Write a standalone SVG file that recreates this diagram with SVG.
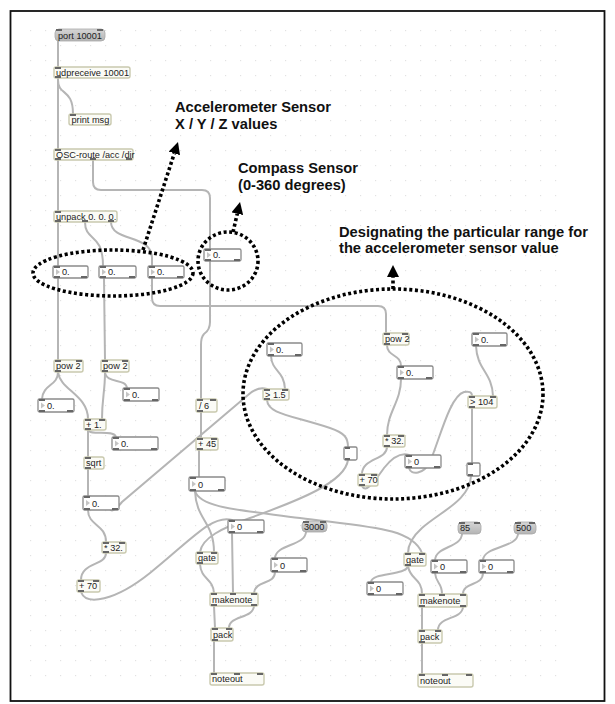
<svg xmlns="http://www.w3.org/2000/svg" width="615" height="704" viewBox="0 0 615 704">
<defs>
<style>
.ob{fill:#fbfbf6;stroke:#c9c9ae;stroke-width:1.4}
.nb{fill:#fff;stroke:#8a8a8a;stroke-width:1.3}
.tg{fill:#fff;stroke:#8a8a8a;stroke-width:1.3}
.msg{fill:url(#mg);stroke:#a8a8a8;stroke-width:0.8}
.io{fill:#666}
.tri{fill:#c4c4c4}
.t{font-family:"Liberation Sans",Arial,sans-serif;font-size:9.2px;fill:#222}
.ann{font-family:"Liberation Sans",Arial,sans-serif;font-size:14.7px;font-weight:bold;fill:#111}
.w{fill:none;stroke:#b5b5b5;stroke-width:2;stroke-linecap:round}
.dot{fill:none;stroke:#000;stroke-width:3.6;stroke-dasharray:3 2.6}
</style>
<linearGradient id="mg" x1="0" y1="0" x2="0" y2="1"><stop offset="0" stop-color="#d6d6d6"/><stop offset="1" stop-color="#b4b4b4"/></linearGradient>
<pattern id="grid" width="15" height="15" patternUnits="userSpaceOnUse"><rect x="0" y="0" width="1.2" height="1.2" fill="#e2e2e2"/></pattern>
<marker id="ah" markerUnits="userSpaceOnUse" viewBox="0 0 12 12" refX="0" refY="6" markerWidth="12" markerHeight="12" orient="auto"><path d="M0,0 L12,6 L0,12 z" fill="#000"/></marker>
</defs>
<rect x="0" y="0" width="615" height="704" fill="#fff"/>
<rect x="25" y="22" width="535" height="668" fill="url(#grid)"/>
<rect x="10.5" y="11" width="594" height="690" fill="none" stroke="#111" stroke-width="1.8"/>

<g id="connectors">
<path class="w" d="M58 41 L58 67"/>
<path class="w" d="M58 80 C58 96 73 88 73 114"/>
<path class="w" d="M58 78 L58 149"/>
<path class="w" d="M58 160 L58 211"/>
<path class="w" d="M93 160 L93 182 Q93 190 101 190 L202 190 Q210 190 210 198 L210 249"/>
<path class="w" d="M58 222 L58 266"/>
<path class="w" d="M85 222 C85 242 103 232 103 266"/>
<path class="w" d="M111 222 C111 242 152 234 152 258 L152 266"/>
<path class="w" d="M58 278 L58 360"/>
<path class="w" d="M104 278 L105 360"/>
<path class="w" d="M152 278 L152 298 Q152 306 160 306 L378 306 Q386 306 386 314 L386 333"/>
<path class="w" d="M210 261 L210 322 Q210 330 204 334 Q201 337 201 345 L201 399"/>
<path class="w" d="M58 372 C58 386 43 384 42 399"/>
<path class="w" d="M58 372 C60 390 88 395 88 419"/>
<path class="w" d="M105 372 C105 392 102 398 102 419"/>
<path class="w" d="M105 372 C106 384 126 378 127 388"/>
<path class="w" d="M88 430 C90 436 114 429 116 437"/>
<path class="w" d="M88 430 L88 457"/>
<path class="w" d="M88 469 L88 496"/>
<path class="w" d="M88 510 C88 526 106 524 106 542"/>
<path class="w" d="M106 553 C106 566 81 562 81 580"/>
<path class="w" d="M110 509 C112 513 117 508 122 502 L248 395 Q258 386 267 389"/>
<path class="w" d="M201 412 L201 438"/>
<path class="w" d="M199 450 L199 477"/>
<path class="w" d="M195 491 C196 520 214 522 214 552"/>
<path class="w" d="M195 491 C200 508 240 510 300 518 C370 527 412 528 422 553"/>
<path class="w" d="M271 356 C272 372 284 370 285 389"/>
<path class="w" d="M267 400 C268 414 290 415 330 428 C345 433 348 438 348 447"/>
<path class="w" d="M348 460 C345 482 300 500 250 518 C222 528 202 538 200 552"/>
<path class="w" d="M387 345 C387 357 401 354 401 366"/>
<path class="w" d="M401 379 C401 402 387 412 387 435"/>
<path class="w" d="M387 447 C387 460 362 458 362 474"/>
<path class="w" d="M362 486 C366 494 374 482 384 468 C392 458 400 452 409 455"/>
<path class="w" d="M409 468 C411 476 424 474 430 462 C440 438 450 396 464 392 C469 391 472 392 472 396"/>
<path class="w" d="M476 346 C477 370 492 372 493 396"/>
<path class="w" d="M472 408 L472 463"/>
<path class="w" d="M471 476 C470 500 440 512 422 528 C412 537 408 545 408 553"/>
<path class="w" d="M408 566 C406 576 372 572 371 582"/>
<path class="w" d="M408 566 C410 580 422 578 422 594"/>
<path class="w" d="M462 534 C461 548 436 546 435 560"/>
<path class="w" d="M435 573 C436 584 442 582 442 594"/>
<path class="w" d="M518 534 C517 548 484 546 483 560"/>
<path class="w" d="M483 573 C483 586 463 582 463 594"/>
<path class="w" d="M422 607 L422 630"/>
<path class="w" d="M463 607 C462 620 438 616 438 630"/>
<path class="w" d="M422 643 L422 674"/>
<path class="w" d="M306 532 C305 546 276 544 275 558"/>
<path class="w" d="M275 572 C275 585 255 580 254 593"/>
<path class="w" d="M232 533 L233 593"/>
<path class="w" d="M200 564 C201 580 213 578 214 593"/>
<path class="w" d="M214 606 L215 628"/>
<path class="w" d="M254 606 C253 619 229 615 229 628"/>
<path class="w" d="M214 641 L214 673"/>
<path class="w" d="M81 592 C86 606 115 601 150 573 C190 541 212 514 232 520"/>
</g>

<g id="n-port"><rect class="msg" x="55" y="29" width="50" height="12" rx="4"/><text class="t" x="58" y="38.5">port 10001</text><rect class="io" x="56" y="29" width="6" height="2"/><rect class="io" x="97" y="29" width="6" height="2"/></g>
<g id="n-udpreceive"><rect class="ob" x="54" y="67" width="76" height="11" rx="2"/><text class="t" x="56" y="75.5">udpreceive 10001</text><rect class="io" x="55" y="67" width="6" height="2"/><rect class="io" x="55" y="76" width="6" height="2"/></g>
<g id="n-print"><rect class="ob" x="69" y="114" width="42" height="11" rx="2"/><text class="t" x="71.5" y="122.5">print msg</text><rect class="io" x="70" y="114" width="6" height="2"/></g>
<g id="n-oscroute"><rect class="ob" x="54" y="149" width="79" height="11" rx="2"/><text class="t" x="56" y="157.5">OSC-route /acc /dir</text><rect class="io" x="55" y="149" width="6" height="2"/><rect class="io" x="55" y="158" width="6" height="2"/><rect class="io" x="90" y="158" width="6" height="2"/><rect class="io" x="126" y="158" width="6" height="2"/></g>
<g id="n-unpack"><rect class="ob" x="54" y="211" width="63" height="11" rx="2"/><text class="t" x="56" y="219.5">unpack 0. 0. 0.</text><rect class="io" x="55" y="211" width="6" height="2"/><rect class="io" x="55" y="220" width="6" height="2"/><rect class="io" x="82" y="220" width="6" height="2"/><rect class="io" x="108" y="220" width="6" height="2"/></g>

<g id="n-nbA1"><rect class="nb" x="53" y="266" width="35" height="12" rx="1.5"/><path class="tri" d="M56 269 L60 272 L56 275 z"/><text class="t" x="62" y="275">0.</text><rect class="io" x="54" y="266" width="6" height="2"/><rect class="io" x="54" y="276" width="6" height="2"/><rect class="io" x="81" y="276" width="6" height="2"/></g>
<g id="n-nbA2"><rect class="nb" x="99" y="266" width="37" height="12" rx="1.5"/><path class="tri" d="M102 269 L106 272 L102 275 z"/><text class="t" x="108" y="275">0.</text><rect class="io" x="100" y="266" width="6" height="2"/><rect class="io" x="100" y="276" width="6" height="2"/><rect class="io" x="129" y="276" width="6" height="2"/></g>
<g id="n-nbA3"><rect class="nb" x="148" y="266" width="36" height="12" rx="1.5"/><path class="tri" d="M151 269 L155 272 L151 275 z"/><text class="t" x="157" y="275">0.</text><rect class="io" x="149" y="266" width="6" height="2"/><rect class="io" x="149" y="276" width="6" height="2"/><rect class="io" x="177" y="276" width="6" height="2"/></g>
<g id="n-nbC"><rect class="nb" x="204" y="249" width="37" height="12" rx="1.5"/><path class="tri" d="M207 252 L211 255 L207 258 z"/><text class="t" x="213" y="258">0.</text><rect class="io" x="205" y="249" width="6" height="2"/><rect class="io" x="205" y="259" width="6" height="2"/><rect class="io" x="234" y="259" width="6" height="2"/></g>

<g id="n-pow2a"><rect class="ob" x="54" y="360" width="29" height="12" rx="2"/><text class="t" x="56" y="369">pow 2</text><rect class="io" x="55" y="360" width="6" height="2"/><rect class="io" x="76" y="360" width="6" height="2"/><rect class="io" x="55" y="370" width="6" height="2"/></g>
<g id="n-pow2b"><rect class="ob" x="101" y="360" width="28" height="12" rx="2"/><text class="t" x="103" y="369">pow 2</text><rect class="io" x="102" y="360" width="6" height="2"/><rect class="io" x="122" y="360" width="6" height="2"/><rect class="io" x="102" y="370" width="6" height="2"/></g>
<g id="n-nbP1"><rect class="nb" x="38" y="399" width="36" height="13" rx="1.5"/><path class="tri" d="M41 402.5 L45 405.5 L41 408.5 z"/><text class="t" x="47" y="409">0.</text><rect class="io" x="39" y="399" width="6" height="2"/><rect class="io" x="39" y="410" width="6" height="2"/><rect class="io" x="67" y="410" width="6" height="2"/></g>
<g id="n-nbP2"><rect class="nb" x="123" y="388" width="36" height="13" rx="1.5"/><path class="tri" d="M126 391.5 L130 394.5 L126 397.5 z"/><text class="t" x="132" y="398">0.</text><rect class="io" x="124" y="388" width="6" height="2"/><rect class="io" x="124" y="399" width="6" height="2"/><rect class="io" x="152" y="399" width="6" height="2"/></g>
<g id="n-plus1"><rect class="ob" x="84" y="419" width="22" height="11" rx="2"/><text class="t" x="86" y="427.5">+ 1.</text><rect class="io" x="85" y="419" width="6" height="2"/><rect class="io" x="99" y="419" width="6" height="2"/><rect class="io" x="85" y="428" width="6" height="2"/></g>
<g id="n-nbS1"><rect class="nb" x="112" y="437" width="46" height="13" rx="1.5"/><path class="tri" d="M115 440.5 L119 443.5 L115 446.5 z"/><text class="t" x="121" y="447">0.</text><rect class="io" x="113" y="437" width="6" height="2"/><rect class="io" x="113" y="448" width="6" height="2"/><rect class="io" x="151" y="448" width="6" height="2"/></g>
<g id="n-sqrt"><rect class="ob" x="84" y="457" width="20" height="12" rx="2"/><text class="t" x="86" y="466">sqrt</text><rect class="io" x="85" y="457" width="6" height="2"/><rect class="io" x="85" y="467" width="6" height="2"/></g>
<g id="n-nbS2"><rect class="nb" x="83" y="496" width="36" height="14" rx="1.5"/><path class="tri" d="M86 500 L90 503 L86 506 z"/><text class="t" x="92" y="506.5">0.</text><rect class="io" x="84" y="496" width="6" height="2"/><rect class="io" x="84" y="508" width="6" height="2"/><rect class="io" x="112" y="508" width="6" height="2"/></g>
<g id="n-mul32a"><rect class="ob" x="102" y="542" width="24" height="11" rx="2"/><text class="t" x="104" y="550.5">* 32.</text><rect class="io" x="103" y="542" width="6" height="2"/><rect class="io" x="119" y="542" width="6" height="2"/><rect class="io" x="103" y="551" width="6" height="2"/></g>
<g id="n-plus70a"><rect class="ob" x="77" y="580" width="23" height="12" rx="2"/><text class="t" x="79" y="589">+ 70</text><rect class="io" x="78" y="580" width="6" height="2"/><rect class="io" x="93" y="580" width="6" height="2"/><rect class="io" x="78" y="590" width="6" height="2"/></g>

<g id="n-div6"><rect class="ob" x="196" y="399" width="21" height="13" rx="2"/><text class="t" x="199" y="408.5">/ 6</text><rect class="io" x="197" y="399" width="6" height="2"/><rect class="io" x="210" y="399" width="6" height="2"/><rect class="io" x="197" y="410" width="6" height="2"/></g>
<g id="n-plus45"><rect class="ob" x="196" y="438" width="22" height="12" rx="2"/><text class="t" x="198" y="447">+ 45</text><rect class="io" x="197" y="438" width="6" height="2"/><rect class="io" x="211" y="438" width="6" height="2"/><rect class="io" x="197" y="448" width="6" height="2"/></g>
<g id="n-nbG"><rect class="nb" x="189" y="477" width="36" height="14" rx="1.5"/><path class="tri" d="M192 481 L196 484 L192 487 z"/><text class="t" x="198" y="487.5">0</text><rect class="io" x="190" y="477" width="6" height="2"/><rect class="io" x="190" y="489" width="6" height="2"/><rect class="io" x="218" y="489" width="6" height="2"/></g>

<g id="n-nbR1"><rect class="nb" x="267" y="343" width="35" height="13" rx="1.5"/><path class="tri" d="M270 346.5 L274 349.5 L270 352.5 z"/><text class="t" x="276" y="353">0.</text><rect class="io" x="268" y="343" width="6" height="2"/><rect class="io" x="268" y="354" width="6" height="2"/><rect class="io" x="295" y="354" width="6" height="2"/></g>
<g id="n-gt15"><rect class="ob" x="263" y="389" width="26" height="11" rx="2"/><text class="t" x="265" y="397.5">&gt; 1.5</text><rect class="io" x="264" y="389" width="6" height="2"/><rect class="io" x="282" y="389" width="6" height="2"/><rect class="io" x="264" y="398" width="6" height="2"/></g>
<g id="n-tgA"><rect class="tg" x="344" y="447" width="13" height="13" rx="1.5"/><rect class="io" x="345" y="447" width="5" height="2"/><rect class="io" x="345" y="458" width="5" height="2"/></g>
<g id="n-pow2c"><rect class="ob" x="383" y="333" width="26" height="12" rx="2"/><text class="t" x="385" y="342">pow 2</text><rect class="io" x="384" y="333" width="6" height="2"/><rect class="io" x="402" y="333" width="6" height="2"/><rect class="io" x="384" y="343" width="6" height="2"/></g>
<g id="n-nbR2"><rect class="nb" x="397" y="366" width="36" height="13" rx="1.5"/><path class="tri" d="M400 369.5 L404 372.5 L400 375.5 z"/><text class="t" x="406" y="376">0.</text><rect class="io" x="398" y="366" width="6" height="2"/><rect class="io" x="398" y="377" width="6" height="2"/><rect class="io" x="426" y="377" width="6" height="2"/></g>
<g id="n-mul32b"><rect class="ob" x="383" y="435" width="22" height="12" rx="2"/><text class="t" x="385" y="444">* 32.</text><rect class="io" x="384" y="435" width="6" height="2"/><rect class="io" x="398" y="435" width="6" height="2"/><rect class="io" x="384" y="445" width="6" height="2"/></g>
<g id="n-plus70b"><rect class="ob" x="358" y="474" width="20" height="12" rx="2"/><text class="t" x="359.5" y="483">+ 70</text><rect class="io" x="359" y="474" width="6" height="2"/><rect class="io" x="371" y="474" width="6" height="2"/><rect class="io" x="359" y="484" width="6" height="2"/></g>
<g id="n-nbR4"><rect class="nb" x="405" y="455" width="36" height="13" rx="1.5"/><path class="tri" d="M408 458.5 L412 461.5 L408 464.5 z"/><text class="t" x="414" y="465">0</text><rect class="io" x="406" y="455" width="6" height="2"/><rect class="io" x="406" y="466" width="6" height="2"/><rect class="io" x="434" y="466" width="6" height="2"/></g>
<g id="n-nbR3"><rect class="nb" x="472" y="333" width="35" height="13" rx="1.5"/><path class="tri" d="M475 336.5 L479 339.5 L475 342.5 z"/><text class="t" x="481" y="343">0.</text><rect class="io" x="473" y="333" width="6" height="2"/><rect class="io" x="473" y="344" width="6" height="2"/><rect class="io" x="500" y="344" width="6" height="2"/></g>
<g id="n-gt104"><rect class="ob" x="468" y="396" width="29" height="12" rx="2"/><text class="t" x="470" y="405">&gt; 104</text><rect class="io" x="469" y="396" width="6" height="2"/><rect class="io" x="490" y="396" width="6" height="2"/><rect class="io" x="469" y="406" width="6" height="2"/></g>
<g id="n-tgB"><rect class="tg" x="467" y="463" width="13" height="13" rx="1.5"/><rect class="io" x="468" y="463" width="5" height="2"/><rect class="io" x="468" y="474" width="5" height="2"/></g>

<g id="n-nbV"><rect class="nb" x="228" y="520" width="36" height="13" rx="1.5"/><path class="tri" d="M231 523.5 L235 526.5 L231 529.5 z"/><text class="t" x="237" y="530">0</text><rect class="io" x="229" y="520" width="6" height="2"/><rect class="io" x="229" y="531" width="6" height="2"/><rect class="io" x="257" y="531" width="6" height="2"/></g>
<g id="n-m3000"><rect class="msg" x="302" y="521" width="25" height="11" rx="4"/><text class="t" x="304" y="530">3000</text><rect class="io" x="303" y="521" width="6" height="2"/><rect class="io" x="320" y="521" width="6" height="2"/></g>
<g id="n-gateA"><rect class="ob" x="196" y="552" width="22" height="12" rx="2"/><text class="t" x="198" y="561">gate</text><rect class="io" x="197" y="552" width="6" height="2"/><rect class="io" x="211" y="552" width="6" height="2"/><rect class="io" x="197" y="562" width="6" height="2"/></g>
<g id="n-nbD"><rect class="nb" x="271" y="558" width="36" height="14" rx="1.5"/><path class="tri" d="M274 562 L278 565 L274 568 z"/><text class="t" x="280" y="568.5">0</text><rect class="io" x="272" y="558" width="6" height="2"/><rect class="io" x="272" y="570" width="6" height="2"/><rect class="io" x="300" y="570" width="6" height="2"/></g>
<g id="n-makenoteA"><rect class="ob" x="210" y="593" width="48" height="13" rx="2"/><text class="t" x="212" y="602.5">makenote</text><rect class="io" x="211" y="593" width="6" height="2"/><rect class="io" x="230" y="593" width="6" height="2"/><rect class="io" x="251" y="593" width="6" height="2"/><rect class="io" x="211" y="604" width="6" height="2"/><rect class="io" x="251" y="604" width="6" height="2"/></g>
<g id="n-packA"><rect class="ob" x="211" y="628" width="22" height="13" rx="2"/><text class="t" x="213" y="637.5">pack</text><rect class="io" x="212" y="628" width="6" height="2"/><rect class="io" x="226" y="628" width="6" height="2"/><rect class="io" x="212" y="639" width="6" height="2"/></g>
<g id="n-noteoutA"><rect class="ob" x="210" y="673" width="54" height="12" rx="2"/><text class="t" x="212" y="682">noteout</text><rect class="io" x="211" y="673" width="6" height="2"/><rect class="io" x="234" y="673" width="6" height="2"/><rect class="io" x="257" y="673" width="6" height="2"/></g>

<g id="n-m85"><rect class="msg" x="458" y="522" width="23" height="12" rx="4"/><text class="t" x="460" y="531">85</text><rect class="io" x="459" y="522" width="6" height="2"/><rect class="io" x="474" y="522" width="6" height="2"/></g>
<g id="n-m500"><rect class="msg" x="514" y="522" width="22" height="12" rx="4"/><text class="t" x="516" y="531">500</text><rect class="io" x="515" y="522" width="6" height="2"/><rect class="io" x="529" y="522" width="6" height="2"/></g>
<g id="n-gateB"><rect class="ob" x="404" y="553" width="22" height="13" rx="2"/><text class="t" x="406" y="562.5">gate</text><rect class="io" x="405" y="553" width="6" height="2"/><rect class="io" x="419" y="553" width="6" height="2"/><rect class="io" x="405" y="564" width="6" height="2"/></g>
<g id="n-nbB1"><rect class="nb" x="431" y="560" width="36" height="13" rx="1.5"/><path class="tri" d="M434 563.5 L438 566.5 L434 569.5 z"/><text class="t" x="440" y="570">0</text><rect class="io" x="432" y="560" width="6" height="2"/><rect class="io" x="432" y="571" width="6" height="2"/><rect class="io" x="460" y="571" width="6" height="2"/></g>
<g id="n-nbB2"><rect class="nb" x="479" y="560" width="35" height="13" rx="1.5"/><path class="tri" d="M482 563.5 L486 566.5 L482 569.5 z"/><text class="t" x="488" y="570">0</text><rect class="io" x="480" y="560" width="6" height="2"/><rect class="io" x="480" y="571" width="6" height="2"/><rect class="io" x="507" y="571" width="6" height="2"/></g>
<g id="n-nbB3"><rect class="nb" x="367" y="582" width="36" height="13" rx="1.5"/><path class="tri" d="M370 585.5 L374 588.5 L370 591.5 z"/><text class="t" x="376" y="592">0</text><rect class="io" x="368" y="582" width="6" height="2"/><rect class="io" x="368" y="593" width="6" height="2"/><rect class="io" x="396" y="593" width="6" height="2"/></g>
<g id="n-makenoteB"><rect class="ob" x="418" y="594" width="49" height="13" rx="2"/><text class="t" x="420" y="603.5">makenote</text><rect class="io" x="419" y="594" width="6" height="2"/><rect class="io" x="439" y="594" width="6" height="2"/><rect class="io" x="460" y="594" width="6" height="2"/><rect class="io" x="419" y="605" width="6" height="2"/><rect class="io" x="460" y="605" width="6" height="2"/></g>
<g id="n-packB"><rect class="ob" x="418" y="630" width="24" height="13" rx="2"/><text class="t" x="420" y="639.5">pack</text><rect class="io" x="419" y="630" width="6" height="2"/><rect class="io" x="435" y="630" width="6" height="2"/><rect class="io" x="419" y="641" width="6" height="2"/></g>
<g id="n-noteoutB"><rect class="ob" x="418" y="674" width="55" height="13" rx="2"/><text class="t" x="420" y="683.5">noteout</text><rect class="io" x="419" y="674" width="6" height="2"/><rect class="io" x="442" y="674" width="6" height="2"/><rect class="io" x="466" y="674" width="6" height="2"/></g>

<g id="annotations">
<ellipse class="dot" cx="113" cy="273" rx="80" ry="23"/>
<ellipse class="dot" cx="228" cy="261" rx="30" ry="29"/>
<ellipse class="dot" cx="393" cy="394" rx="150" ry="105"/>
<path class="dot" d="M143 250 L174.3 153.4" marker-end="url(#ah)"/>
<path class="dot" d="M233 232 L237.3 213.7" marker-end="url(#ah)"/>
<path class="dot" d="M393 289 L393 277" marker-end="url(#ah)"/>
<text class="ann" x="175" y="112">Accelerometer Sensor</text>
<text class="ann" x="175" y="129">X / Y / Z values</text>
<text class="ann" x="238" y="173">Compass Sensor</text>
<text class="ann" x="238" y="190">(0-360 degrees)</text>
<text class="ann" x="339" y="237">Designating the particular range for</text>
<text class="ann" x="339" y="253">the accelerometer sensor value</text>
</g>
</svg>
